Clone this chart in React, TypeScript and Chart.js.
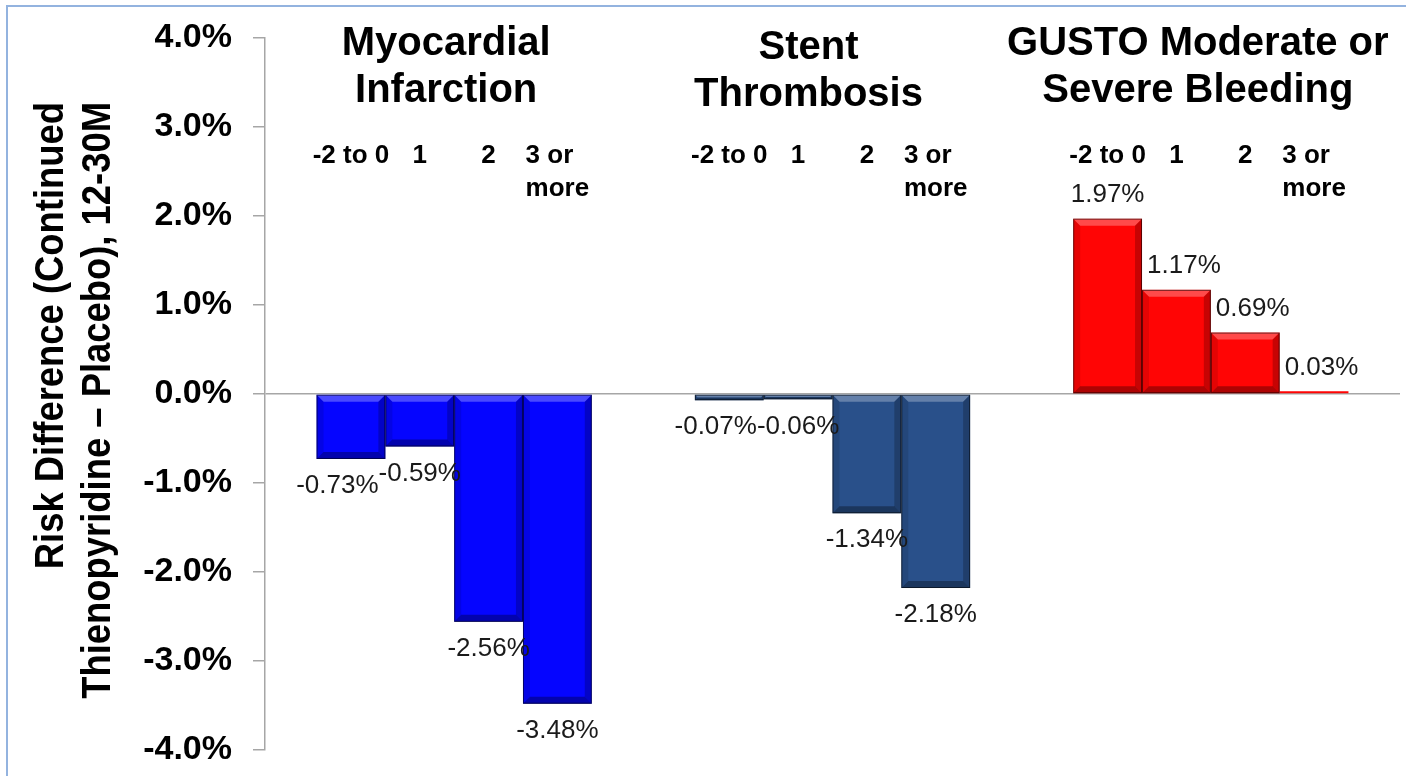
import React, { useEffect, useRef } from 'react';
import { Chart, registerables } from 'chart.js';

Chart.register(...registerables);

// Outcome groups along the x axis
const groups = ['Myocardial Infarction', 'Stent Thrombosis', 'GUSTO Moderate or Severe Bleeding'];
const groupTitleLines = [
  ['Myocardial', 'Infarction'],
  ['Stent', 'Thrombosis'],
  ['GUSTO Moderate or', 'Severe Bleeding'],
];

// DAPT score bins (one bar per bin inside every group)
const binNames = ['-2 to 0', '1', '2', '3 or more'];
const binLabelLines = [['-2 to 0'], ['1'], ['2'], ['3 or', 'more']];

// Risk difference (%) per bin, ordered by group
const binMinus2to0 = [-0.73, -0.07, 1.97];
const bin1 = [-0.59, -0.06, 1.17];
const bin2 = [-2.56, -1.34, 0.69];
const bin3orMore = [-3.48, -2.18, 0.03];
const binSeries = [binMinus2to0, bin1, bin2, bin3orMore];

const groupColors = ['#0505ff', '#29508a', '#ff0505'];

const yAxisTitle = ['Risk Difference (Continued', 'Thienopyridine \u2013 Placebo), 12-30M'];
const yMin = -4;
const yMax = 4;

const FONT = '"Liberation Sans", Arial, Helvetica, sans-serif';

// Title block placement relative to each group's centre (dx, dy in px)
const TITLE_SHIFT = [
  [-8, 0],
  [-24, 4],
  [-13, 0],
];

const bevelPlugin = {
  id: 'bevel',
  afterDatasetsDraw(chart: any) {
    const ctx = chart.ctx as CanvasRenderingContext2D;
    const poly = (pts: number[][], fill: string) => {
      ctx.beginPath();
      ctx.moveTo(pts[0][0], pts[0][1]);
      for (let i = 1; i < pts.length; i++) ctx.lineTo(pts[i][0], pts[i][1]);
      ctx.closePath();
      ctx.fillStyle = fill;
      ctx.fill();
    };
    chart.data.datasets.forEach((_ds: any, di: number) => {
      const meta = chart.getDatasetMeta(di);
      meta.data.forEach((el: any) => {
        const { x, y, base, width } = el.getProps(['x', 'y', 'base', 'width'], true);
        const l = x - width / 2;
        const r = x + width / 2;
        const t = Math.min(y, base);
        const b = Math.max(y, base);
        const h = b - t;
        ctx.save();
        if (h > 4) {
          const bv = Math.min(7, h / 2, width / 2);
          poly([[l, t], [r, t], [r - bv, t + bv], [l + bv, t + bv]], 'rgba(255,255,255,0.28)');
          poly([[l, b], [r, b], [r - bv, b - bv], [l + bv, b - bv]], 'rgba(0,0,0,0.32)');
          poly([[r, t], [r, b], [r - bv, b - bv], [r - bv, t + bv]], 'rgba(0,0,0,0.22)');
          poly([[l, t], [l, b], [l + bv, b - bv], [l + bv, t + bv]], 'rgba(0,0,0,0.10)');
          ctx.strokeStyle = 'rgba(0,0,0,0.55)';
          ctx.lineWidth = 1;
          ctx.strokeRect(l + 0.5, t + 0.5, width - 1, h - 1);
        }
        ctx.restore();
      });
    });
  },
};

const annotationPlugin = {
  id: 'annotations',
  afterDraw(chart: any) {
    const ctx = chart.ctx as CanvasRenderingContext2D;
    const area = chart.chartArea;
    const xScale = chart.scales.x;
    ctx.save();
    ctx.fillStyle = '#000';
    ctx.textBaseline = 'middle';

    // Group titles
    ctx.font = `bold 40px ${FONT}`;
    ctx.textAlign = 'center';
    groupTitleLines.forEach((lines, g) => {
      const cx = xScale.getPixelForValue(g) + TITLE_SHIFT[g][0];
      const top = area.top + 6 + TITLE_SHIFT[g][1];
      lines.forEach((line, k) => ctx.fillText(line, cx, top + k * 47));
    });

    // Bin labels above each bar
    ctx.font = `bold 26px ${FONT}`;
    ctx.textAlign = 'left';
    groups.forEach((_g, g) => {
      binLabelLines.forEach((lines, i) => {
        const el = chart.getDatasetMeta(i).data[g];
        const w = Math.max(...lines.map((s) => ctx.measureText(s).width));
        const left = el.x - w / 2;
        lines.forEach((line, k) => ctx.fillText(line, left, area.top + 118 + k * 33));
      });
    });

    // Value labels at the end of every bar
    ctx.font = `26px ${FONT}`;
    ctx.fillStyle = '#1a1a1a';
    ctx.textAlign = 'center';
    const lh = 22;
    groups.forEach((_g, g) => {
      const items = binSeries.map((series, i) => {
        const v = series[g];
        const el = chart.getDatasetMeta(i).data[g];
        const text = v.toFixed(2) + '%';
        const w = ctx.measureText(text).width;
        const cy = v < 0 ? el.y + 27 : el.y - 24;
        return { v, el, text, w, cx: el.x, cy };
      });
      // negatives: keep labels from running into the label on their right
      for (let i = items.length - 2; i >= 0; i--) {
        const a = items[i];
        const n = items[i + 1];
        if (a.v >= 0 || n.v >= 0) continue;
        if (Math.abs(a.cy - n.cy) < lh && a.cx + a.w / 2 > n.cx - n.w / 2) {
          a.cx = n.cx - n.w / 2 - a.w / 2;
        }
      }
      // positives: step clear of a taller bar on the left
      for (let i = 1; i < items.length; i++) {
        const a = items[i];
        const p = items[i - 1];
        if (a.v < 0 || p.v < 0) continue;
        const pRight = p.el.x + p.el.width / 2;
        const pTop = Math.min(p.el.y, p.el.base);
        if (pTop < a.cy + lh / 2 && a.cx - a.w / 2 < pRight + 5) {
          a.cx = pRight + 5 + a.w / 2;
        }
      }
      items.forEach((it) => ctx.fillText(it.text, it.cx, it.cy));
    });

    // Rotated y axis title
    ctx.fillStyle = '#000';
    ctx.font = `bold 40px ${FONT}`;
    ctx.textAlign = 'right';
    const titleX = [52, 99];
    yAxisTitle.forEach((line, k) => {
      ctx.save();
      ctx.translate(titleX[k], 102);
      ctx.rotate(-Math.PI / 2);
      ctx.scale(0.91, 1);
      ctx.fillText(line, 0, 0);
      ctx.restore();
    });
    ctx.restore();
  },
};

export default function App() {
  const canvasRef = useRef<HTMLCanvasElement | null>(null);

  useEffect(() => {
    const canvas = canvasRef.current;
    if (!canvas) return;
    const chart = new Chart(canvas, {
      type: 'bar',
      data: {
        labels: groups,
        datasets: binSeries.map((series, i) => ({
          label: binNames[i],
          data: series,
          backgroundColor: groupColors,
          borderWidth: 0,
          categoryPercentage: 0.7275,
          barPercentage: 1.0,
        })),
      },
      options: {
        responsive: false,
        animation: false,
        devicePixelRatio: 1,
        layout: { padding: { left: 0, right: 6, top: 38, bottom: 26 } },
        plugins: {
          legend: { display: false },
          tooltip: { enabled: false },
          title: { display: false },
        },
        scales: {
          x: { display: false },
          y: {
            min: yMin,
            max: yMax,
            afterFit: (scale: any) => {
              scale.width = 265;
              scale.paddingTop = 0;
              scale.paddingBottom = 0;
            },
            ticks: {
              stepSize: 1,
              padding: 21,
              color: '#000',
              font: { family: FONT, size: 34, weight: 'bold' },
              callback: (v: any) => Number(v).toFixed(1) + '%',
            },
            grid: {
              drawOnChartArea: true,
              drawTicks: true,
              tickLength: 12,
              lineWidth: 1.5,
              tickColor: '#a6a6a6',
              color: (c: any) => (c.tick && c.tick.value === 0 ? '#a6a6a6' : 'rgba(0,0,0,0)'),
            },
            border: { display: true, color: '#a6a6a6', width: 1.5 },
          },
        },
      },
      plugins: [bevelPlugin, annotationPlugin],
    });
    return () => chart.destroy();
  }, []);

  return (
    <div style={{ position: 'fixed', left: 0, top: 0, width: 1406, height: 776, background: '#fff' }}>
      <canvas ref={canvasRef} width={1406} height={776} style={{ display: 'block' }} />
      <div
        style={{
          position: 'absolute',
          left: 6,
          top: 5,
          right: 0,
          bottom: 0,
          borderTop: '2px solid #93b3df',
          borderLeft: '2px solid #93b3df',
          pointerEvents: 'none',
        }}
      />
    </div>
  );
}
